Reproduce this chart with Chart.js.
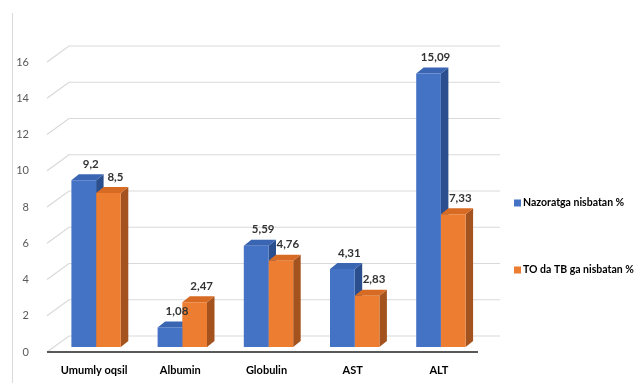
<!DOCTYPE html>
<html>
<head>
<meta charset="utf-8">
<script src="https://cdn.jsdelivr.net/npm/chart.js@4.4.1/dist/chart.umd.min.js"></script>
<style>
  html, body { margin: 0; padding: 0; background: #fff; }
  #wrap { position: relative; width: 644px; height: 383px; }
</style>
</head>
<body>
<div id="wrap"><canvas id="chart" width="644" height="383"></canvas></div>
<script>
// values
const categories = ['Umumly oqsil', 'Albumin', 'Globulin', 'AST', 'ALT'];
const nazoratga = [9.2, 1.08, 5.59, 4.31, 15.09];
const toDaTb = [8.5, 2.47, 4.76, 2.83, 7.33];
const seriesNames = ['Nazoratga nisbatan %', 'TO da TB ga nisbatan %'];
const yTicks = [0, 2, 4, 6, 8, 10, 12, 14, 16];

// face colours: front / top / side
const blueFaces = ['#4472c4', '#3a65b3', '#2b4f8e'];
const orangeFaces = ['#ed7d31', '#d76b24', '#a4531f'];

// 3d offsets relative to the bar plane
const FRONT = { dx: -6, dy: 5 };
const BACK = { dx: 16, dy: -11 };
const DEPTH = { dx: 7.5, dy: -6 };

const fmt = v => String(v).replace('.', ',');

function poly(ctx, pts, color) {
  ctx.beginPath();
  ctx.moveTo(pts[0][0], pts[0][1]);
  for (let k = 1; k < pts.length; k++) ctx.lineTo(pts[k][0], pts[k][1]);
  ctx.closePath();
  ctx.fillStyle = color;
  ctx.fill();
}

const frame = {
  id: 'frame',
  beforeDraw(chart) {
    const ctx = chart.ctx;
    ctx.save();
    ctx.fillStyle = '#fff';
    ctx.fillRect(0, 0, chart.width, chart.height);
    ctx.strokeStyle = '#d9d9d9';
    ctx.lineWidth = 1;
    ctx.beginPath();
    ctx.moveTo(12.5, 13);
    ctx.lineTo(12.5, chart.height);
    ctx.stroke();
    ctx.restore();
  }
};

const walls = {
  id: 'walls',
  beforeDatasetsDraw(chart) {
    const { ctx, chartArea: a, scales: { y } } = chart;
    ctx.save();
    // back wall grid with the side diagonals
    ctx.strokeStyle = '#d9d9d9';
    ctx.lineWidth = 1.2;
    y.ticks.forEach(t => {
      const py = y.getPixelForValue(t.value);
      ctx.beginPath();
      ctx.moveTo(a.left + FRONT.dx, py + FRONT.dy);
      ctx.lineTo(a.left + BACK.dx, py + BACK.dy);
      ctx.lineTo(a.right + BACK.dx, py + BACK.dy);
      ctx.stroke();
    });
    // front floor edge
    const y0 = y.getPixelForValue(0) + FRONT.dy;
    ctx.strokeStyle = '#595959';
    ctx.lineWidth = 2;
    ctx.beginPath();
    ctx.moveTo(a.left + FRONT.dx, y0);
    ctx.lineTo(a.right + FRONT.dx, y0);
    ctx.stroke();

    // bar tops and sides, fronts come from the bar controller
    chart.data.datasets.forEach((ds, i) => {
      const faces = ds.faces;
      chart.getDatasetMeta(i).data.forEach(el => {
        const l = el.x - el.width / 2, r = el.x + el.width / 2;
        const t = el.y, b = el.base;
        poly(ctx, [[r, t], [r + DEPTH.dx, t + DEPTH.dy], [r + DEPTH.dx, b + DEPTH.dy], [r, b]], faces[2]);
        poly(ctx, [[l, t], [l + DEPTH.dx, t + DEPTH.dy], [r + DEPTH.dx, t + DEPTH.dy], [r, t]], faces[1]);
      });
    });
    ctx.restore();
  }
};

const valueLabels = {
  id: 'valueLabels',
  afterDatasetsDraw(chart) {
    const ctx = chart.ctx;
    ctx.save();
    ctx.font = 'bold 11.5px Lato';
    ctx.fillStyle = '#333';
    ctx.textAlign = 'center';
    ctx.textBaseline = 'middle';
    chart.data.datasets.forEach((ds, i) => {
      chart.getDatasetMeta(i).data.forEach((el, j) => {
        ctx.fillText(fmt(ds.data[j]), el.x + 7, el.y - 16);
      });
    });
    ctx.restore();
  }
};

const sideLegend = {
  id: 'sideLegend',
  afterDraw(chart) {
    const { ctx, chartArea: a } = chart;
    const rows = [203, 270];
    ctx.save();
    ctx.font = 'bold 10.5px Lato';
    ctx.textBaseline = 'middle';
    ctx.textAlign = 'left';
    chart.data.datasets.forEach((ds, i) => {
      const x = a.right + 30, yc = rows[i];
      ctx.fillStyle = ds.backgroundColor;
      ctx.fillRect(x, yc - 3.5, 7, 7);
      ctx.fillStyle = '#000';
      ctx.fillText(ds.label, x + 9, yc);
    });
    ctx.restore();
  }
};

Chart.defaults.font.family = 'Lato';

new Chart(document.getElementById('chart'), {
  type: 'bar',
  data: {
    labels: categories,
    datasets: [
      { label: seriesNames[0], data: nazoratga, backgroundColor: blueFaces[0], faces: blueFaces },
      { label: seriesNames[1], data: toDaTb, backgroundColor: orangeFaces[0], faces: orangeFaces }
    ]
  },
  options: {
    responsive: false,
    animation: false,
    devicePixelRatio: 1,
    datasets: { bar: { categoryPercentage: 0.573, barPercentage: 1 } },
    layout: { padding: { left: 12, right: 160, top: 57, bottom: 0 } },
    plugins: { legend: { display: false }, tooltip: { enabled: false } },
    scales: {
      x: {
        grid: { display: false },
        border: { display: false },
        ticks: { padding: 9, color: '#000', font: { size: 11, weight: 'bold' }, labelOffset: -2 },
        afterFit: s => { s.height = 36; }
      },
      y: {
        min: 0, max: 16,
        grid: { display: false },
        border: { display: false },
        afterBuildTicks: s => { s.ticks = yTicks.map(v => ({ value: v })); },
        ticks: { padding: 16, labelOffset: 5, color: '#595959', font: { size: 11 } },
        afterFit: s => { s.width = 41; }
      }
    }
  },
  plugins: [frame, walls, valueLabels, sideLegend]
});
</script>
</body>
</html>
